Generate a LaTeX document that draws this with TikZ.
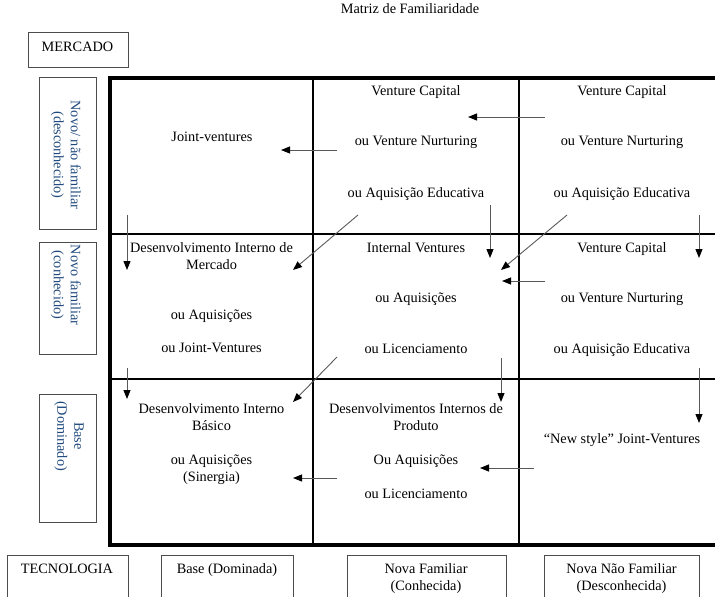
\documentclass[tikz,border=0pt]{standalone}
\usepackage{fontspec}
\setmainfont{Liberation Serif}
\usetikzlibrary{arrows.meta}
\definecolor{labelblue}{RGB}{31,73,125}
\newcommand\cellfont{\fontsize{14.3}{17}\selectfont}

\begin{document}
\begin{tikzpicture}[x=1pt,y=-1pt,
   cell/.style={align=center,anchor=north,inner sep=0pt,font=\cellfont},
   eixo/.style={cell,anchor=center,rotate=-90,text=labelblue},
   caixa/.style={draw=black!70,line width=0.8pt},
   seta/.style={draw=black!65,line width=0.9pt,-{Triangle[length=9pt,width=7pt,color=black]}}]

   \useasboundingbox (0,0) rectangle (715,597);

   \node[cell,anchor=base] (titulo) at (410,13) {Matriz de Familiaridade};

   % caixas dos eixos
   \draw[caixa] (28,32) rectangle (128,67);
   \node[cell,anchor=base] (mercado) at (77.5,51) {MERCADO};

   \draw[caixa] (39,77) rectangle (96,229);
   \draw[caixa] (39,242) rectangle (96,354);
   \draw[caixa] (39,394) rectangle (96,522);
   \node[eixo] (novonf) at (66,155) {Novo/ não familiar\\(desconhecido)};
   \node[eixo] (novof) at (66,285) {Novo familiar\\(conhecido)};
   \node[eixo] (base) at (69,436) {Base\\(Dominado)};

   \draw[caixa] (7,555) rectangle (128,610);
   \draw[caixa] (161,555) rectangle (293,610);
   \draw[caixa] (347,555) rectangle (506,610);
   \draw[caixa] (544,555) rectangle (699,610);
   \node[cell,anchor=base] (tecnologia) at (67,573) {TECNOLOGIA};
   \node[cell,anchor=base] (tbase) at (227,573) {Base (Dominada)};
   \node[cell] (tnf) at (426,563) {Nova Familiar\\(Conhecida)};
   \node[cell] (tnnf) at (621.5,563) {Nova Não Familiar\\(Desconhecida)};

   % matriz
   \draw[line width=3.5pt] (110,78) rectangle (725,545);
   \draw[line width=2pt] (313,78) -- (313,545);
   \draw[line width=2pt] (519,78) -- (519,545);
   \draw[line width=2pt] (110,234) -- (725,234);
   \draw[line width=2pt] (110,379) -- (725,379);

   \node[cell,anchor=base] (c11) at (212,141) {Joint-ventures};
   \node[cell] (c12) at (416,85) {Venture Capital\\[33pt]ou Venture Nurturing\\[35pt]ou Aquisição Educativa};
   \node[cell] (c13) at (622,85) {Venture Capital\\[33pt]ou Venture Nurturing\\[35pt]ou Aquisição Educativa};
   \node[cell] (c21) at (211.5,242) {Desenvolvimento Interno de\\Mercado\\[33pt]ou Aquisições\\[16pt]ou Joint-Ventures};
   \node[cell] (c22) at (416,242) {Internal Ventures\\[33pt]ou Aquisições\\[34pt]ou Licenciamento};
   \node[cell] (c23) at (622,242) {Venture Capital\\[33pt]ou Venture Nurturing\\[34pt]ou Aquisição Educativa};
   \node[cell] (c31) at (211.5,403) {Desenvolvimento Interno\\Básico\\[17pt]ou Aquisições\\(Sinergia)};
   \node[cell] (c32) at (416,403) {Desenvolvimentos Internos de\\Produto\\[17pt]Ou Aquisições\\[17pt]ou Licenciamento};
   \node[cell,anchor=base] (c33) at (622,443) {“New style” Joint-Ventures};

   % setas
   \coordinate (s1) at (545,117);  \coordinate (e1) at (468,117);
   \coordinate (s2) at (337,150);  \coordinate (e2) at (281,150);
   \coordinate (s3) at (127,215);  \coordinate (e3) at (127,270);
   \coordinate (s4) at (358,215);  \coordinate (e4) at (293,270);
   \coordinate (s5) at (490,205);  \coordinate (e5) at (490,258);
   \coordinate (s6) at (567,215);  \coordinate (e6) at (501,270);
   \coordinate (s7) at (699,215);  \coordinate (e7) at (699,258);
   \coordinate (s8) at (545,281);  \coordinate (e8) at (502,281);
   \coordinate (s9) at (127,368);  \coordinate (e9) at (127,399);
   \coordinate (s10) at (337,357); \coordinate (e10) at (293,402);
   \coordinate (s11) at (501,358); \coordinate (e11) at (501,402);
   \coordinate (s12) at (699,368); \coordinate (e12) at (699,423);
   \coordinate (s13) at (337,478); \coordinate (e13) at (293,478);
   \coordinate (s14) at (534,468); \coordinate (e14) at (480,468);

   \draw[seta] (s1) -- (e1);
   \draw[seta] (s2) -- (e2);
   \draw[seta] (s3) -- (e3);
   \draw[seta] (s4) -- (e4);
   \draw[seta] (s5) -- (e5);
   \draw[seta] (s6) -- (e6);
   \draw[seta] (s7) -- (e7);
   \draw[seta] (s8) -- (e8);
   \draw[seta] (s9) -- (e9);
   \draw[seta] (s10) -- (e10);
   \draw[seta] (s11) -- (e11);
   \draw[seta] (s12) -- (e12);
   \draw[seta] (s13) -- (e13);
   \draw[seta] (s14) -- (e14);
\end{tikzpicture}
\end{document}
